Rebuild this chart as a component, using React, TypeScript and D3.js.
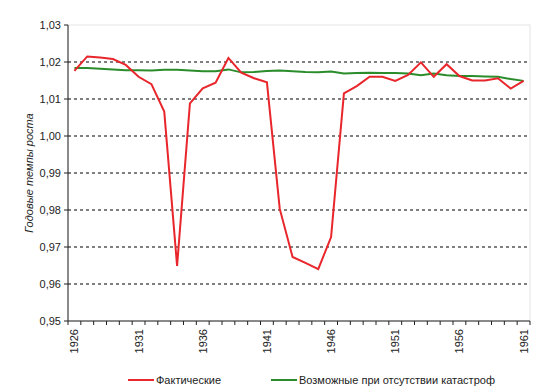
import * as d3 from 'd3'

const years = d3.range(1926, 1962).map(String)
const actual = [
  1.0176, 1.0215, 1.0212, 1.0208, 1.0192, 1.016, 1.014, 1.0066, 0.9649, 1.0088,
  1.0129, 1.0144, 1.0211, 1.0171, 1.0156, 1.0145, 0.9803, 0.9673, 0.9657, 0.964,
  0.9727, 1.0115, 1.0135, 1.016, 1.016, 1.0149, 1.0165, 1.0199, 1.016, 1.0194,
  1.0162, 1.015, 1.015, 1.0156, 1.0128, 1.0149,
]
const possible = [
  1.0184, 1.0184, 1.0182, 1.018, 1.0178, 1.0178, 1.0177, 1.0179, 1.0179, 1.0177,
  1.0175, 1.0175, 1.018, 1.0172, 1.0173, 1.0176, 1.0177, 1.0175, 1.0173, 1.0172,
  1.0174, 1.0169, 1.017, 1.0171, 1.017, 1.017, 1.0169, 1.0164, 1.0169, 1.0164,
  1.0162, 1.0162, 1.0161, 1.016, 1.0154, 1.0149,
]
const yTicks = [0.95, 0.96, 0.97, 0.98, 0.99, 1.0, 1.01, 1.02, 1.03]
const yLabel = 'Годовые темпы роста'
const legendNames = ['Фактические', 'Возможные при отсутствии катастроф']
const colors = ['#e8262b', '#2a8c2a']

const W = 545
const H = 392
const left = 68
const right = 530
const top = 25
const bottom = 321
const font = '"Liberation Sans", Arial, sans-serif'

export default function App() {
  const x = d3.scaleBand().domain(years).range([left, right])
  const y = d3.scaleLinear().domain([0.95, 1.03]).range([bottom, top])
  const cx = (i: number) => (x(years[i]) as number) + x.bandwidth() / 2
  const line = d3
    .line<number>()
    .x((_, i) => cx(i))
    .y((v) => y(v))

  const boundaries = d3.range(years.length + 1).map((i) => left + i * x.bandwidth())

  return (
    <svg
      width={W}
      height={H}
      style={{ position: 'absolute', left: 0, top: 0, background: '#fff' }}
      fontFamily={font}
    >
      <rect x={left} y={top} width={right - left} height={bottom - top} fill="none" stroke="#e4e4e4" />
      {yTicks.slice(1, -1).map((t) => (
        <line key={t} x1={left} x2={right} y1={y(t)} y2={y(t)} stroke="#000" strokeDasharray="3 3" />
      ))}
      {/* axes */}
      <line x1={left} x2={left} y1={top} y2={bottom} stroke="#222" />
      <line x1={left} x2={right} y1={bottom} y2={bottom} stroke="#222" />
      {yTicks.map((t) => (
        <g key={t}>
          <line x1={left - 4} x2={left} y1={y(t)} y2={y(t)} stroke="#222" />
          <text x={left - 7} y={y(t) + 4} textAnchor="end" fontSize={11} fill="#222">
            {t.toFixed(2).replace('.', ',')}
          </text>
        </g>
      ))}
      {boundaries.map((b, i) => (
        <line key={i} x1={b} x2={b} y1={bottom} y2={bottom + 4} stroke="#222" />
      ))}
      {years.map((yr, i) =>
        i % 5 === 0 ? (
          <text
            key={yr}
            transform={`translate(${cx(i) + 4},${bottom + 8}) rotate(-90)`}
            textAnchor="end"
            fontSize={11}
            fill="#222"
          >
            {yr}
          </text>
        ) : null,
      )}
      <text
        transform={`translate(33,${(top + bottom) / 2}) rotate(-90)`}
        textAnchor="middle"
        fontSize={11}
        fontStyle="italic"
        fill="#222"
      >
        {yLabel}
      </text>
      <path d={line(possible) ?? ''} fill="none" stroke={colors[1]} strokeWidth={2} />
      <path d={line(actual) ?? ''} fill="none" stroke={colors[0]} strokeWidth={2} />
      {/* legend */}
      {[128, 271].map((lx, i) => (
        <g key={i}>
          <line x1={lx} x2={lx + 26} y1={380} y2={380} stroke={colors[i]} strokeWidth={2} />
          <text x={lx + 28} y={384} fontSize={11} fill="#222">
            {legendNames[i]}
          </text>
        </g>
      ))}
    </svg>
  )
}
